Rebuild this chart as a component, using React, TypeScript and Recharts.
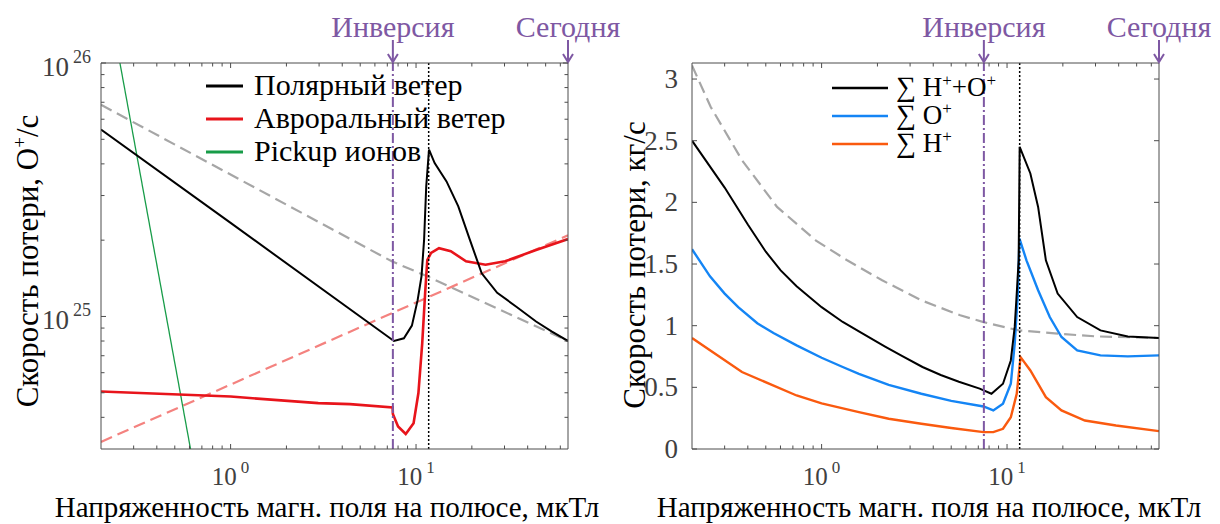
import React from 'react';
import { LineChart, Line, XAxis, YAxis, ReferenceLine } from 'recharts';

// magnetic field at the pole, µT (log axis)
const X_DOMAIN: [number, number] = [0.2, 66];
const X_TICKS = [0.3, 0.4, 0.5, 0.6, 0.7, 0.8, 0.9, 1, 2, 3, 4, 5, 6, 7, 8, 9, 10, 20, 30, 40, 50, 60];
const INVERSION_B = 7.5;
const TRANSITION_B = 11.7;
const TODAY_B = 66;

// left panel: O+ escape rate, ions/s (log axis)
const FLUX_DOMAIN: [number, number] = [3e24, 1e26];
const FLUX_TICKS = [4e24, 5e24, 6e24, 7e24, 8e24, 9e24, 1e25, 2e25, 3e25, 4e25, 5e25, 6e25, 7e25, 8e25, 9e25, 1e26];

const polarWind = [
  { x: 0.2, y: 5.46e25 }, { x: 1.0, y: 2.34e25 }, { x: 7.6, y: 8.0e24 }, { x: 8.6, y: 8.2e24 },
  { x: 9.5, y: 9.2e24 }, { x: 10.2, y: 1.16e25 }, { x: 10.7, y: 1.44e25 }, { x: 11.05, y: 2.0e25 },
  { x: 11.35, y: 3.26e25 }, { x: 11.75, y: 4.55e25 }, { x: 12.6, y: 4.03e25 }, { x: 14.6, y: 3.41e25 },
  { x: 16.9, y: 2.72e25 }, { x: 19.5, y: 2.01e25 }, { x: 22.6, y: 1.48e25 }, { x: 27.4, y: 1.24e25 },
  { x: 34.9, y: 1.09e25 }, { x: 44.4, y: 9.55e24 }, { x: 53.8, y: 8.73e24 }, { x: 66, y: 8.0e24 },
];
const auroralWind = [
  { x: 0.2, y: 5.06e24 }, { x: 1.0, y: 4.83e24 }, { x: 2.97, y: 4.55e24 }, { x: 4.4, y: 4.51e24 },
  { x: 7.48, y: 4.38e24 }, { x: 7.5, y: 4.12e24 }, { x: 8.0, y: 3.68e24 }, { x: 8.8, y: 3.44e24 },
  { x: 9.7, y: 3.79e24 }, { x: 10.3, y: 4.99e24 }, { x: 10.8, y: 7.85e24 }, { x: 11.2, y: 1.24e25 },
  { x: 11.5, y: 1.67e25 }, { x: 12.05, y: 1.78e25 }, { x: 13.3, y: 1.86e25 }, { x: 15.4, y: 1.81e25 },
  { x: 18.6, y: 1.65e25 }, { x: 23.7, y: 1.6e25 }, { x: 30.2, y: 1.65e25 }, { x: 44.4, y: 1.83e25 },
  { x: 66, y: 2.02e25 },
];
const auroralTrend = [{ x: 0.2, y: 3.2e24 }, { x: 66, y: 2.09e25 }];
const fluxLimit = [{ x: 0.2, y: 6.84e25 }, { x: 7.4, y: 1.65e25 }, { x: 11.5, y: 1.44e25 }, { x: 66, y: 8.0e24 }];
const pickupIons = [{ x: 0.253, y: 1e26 }, { x: 0.608, y: 3e24 }];

// right panel: mass loss, kg/s
const MASS_DOMAIN: [number, number] = [0, 3.13];
const MASS_TICKS = [0, 0.5, 1, 1.5, 2, 2.5, 3];

const totalLoss = [
  { x: 0.2, y: 2.5 }, { x: 0.3, y: 2.12 }, { x: 0.4, y: 1.82 }, { x: 0.5, y: 1.6 }, { x: 0.6, y: 1.45 },
  { x: 0.733, y: 1.32 }, { x: 1.0, y: 1.15 }, { x: 1.3, y: 1.03 }, { x: 1.667, y: 0.935 }, { x: 2.2, y: 0.83 },
  { x: 2.71, y: 0.755 }, { x: 3.5, y: 0.665 }, { x: 4.39, y: 0.6 }, { x: 5.5, y: 0.545 }, { x: 7.12, y: 0.49 },
  { x: 8.24, y: 0.448 }, { x: 9.51, y: 0.529 }, { x: 10.48, y: 0.718 }, { x: 11.0, y: 0.99 }, { x: 11.28, y: 1.26 },
  { x: 11.55, y: 1.53 }, { x: 11.7, y: 2.45 }, { x: 13.36, y: 2.234 }, { x: 14.71, y: 1.963 }, { x: 16.2, y: 1.53 },
  { x: 18.75, y: 1.26 }, { x: 23.9, y: 1.07 }, { x: 31.9, y: 0.962 }, { x: 44.8, y: 0.913 }, { x: 66, y: 0.9 },
];
const oxygenLoss = [
  { x: 0.2, y: 1.62 }, { x: 0.25, y: 1.4 }, { x: 0.3, y: 1.26 }, { x: 0.355, y: 1.15 }, { x: 0.45, y: 1.02 },
  { x: 0.55, y: 0.94 }, { x: 0.733, y: 0.84 }, { x: 1.0, y: 0.74 }, { x: 1.3, y: 0.665 }, { x: 1.589, y: 0.61 },
  { x: 2.3, y: 0.52 }, { x: 3.45, y: 0.448 }, { x: 5.0, y: 0.39 }, { x: 7.47, y: 0.345 }, { x: 8.43, y: 0.313 },
  { x: 9.51, y: 0.367 }, { x: 10.48, y: 0.529 }, { x: 11.0, y: 0.854 }, { x: 11.44, y: 1.26 }, { x: 11.67, y: 1.706 },
  { x: 12.73, y: 1.53 }, { x: 14.71, y: 1.287 }, { x: 17.0, y: 1.07 }, { x: 19.66, y: 0.908 }, { x: 23.9, y: 0.8 },
  { x: 31.9, y: 0.759 }, { x: 44.8, y: 0.751 }, { x: 66, y: 0.759 },
];
const hydrogenLoss = [
  { x: 0.2, y: 0.9 }, { x: 0.372, y: 0.624 }, { x: 0.733, y: 0.434 }, { x: 1.0, y: 0.37 }, { x: 1.589, y: 0.299 },
  { x: 2.3, y: 0.245 }, { x: 3.45, y: 0.205 }, { x: 5.0, y: 0.17 }, { x: 7.47, y: 0.137 }, { x: 8.43, y: 0.137 },
  { x: 9.51, y: 0.164 }, { x: 10.48, y: 0.258 }, { x: 11.28, y: 0.448 }, { x: 11.83, y: 0.745 }, { x: 13.36, y: 0.637 },
  { x: 16.2, y: 0.42 }, { x: 19.66, y: 0.313 }, { x: 26.3, y: 0.231 }, { x: 38.7, y: 0.191 }, { x: 66, y: 0.145 },
];
const massLimit = [
  { x: 0.2, y: 3.11 }, { x: 0.252, y: 2.775 }, { x: 0.372, y: 2.342 }, { x: 0.575, y: 1.963 },
  { x: 0.933, y: 1.69 }, { x: 1.373, y: 1.53 }, { x: 2.12, y: 1.368 }, { x: 3.45, y: 1.206 },
  { x: 5.59, y: 1.084 }, { x: 7.47, y: 1.029 }, { x: 11.55, y: 0.962 }, { x: 18.75, y: 0.935 },
  { x: 30.4, y: 0.913 }, { x: 66, y: 0.9 },
];

const FONT = '"Liberation Serif", monospace';
const SERIF = { fontFamily: FONT };
const AXIS = '#4d4d4d';
const TEXT = '#404040';
const PURPLE = '#7e58a3';
const H = 524;
const TOP = 63;
const BOTTOM = 75;

const isDecade = (v: number) => Math.abs(Math.log10(v) - Math.round(Math.log10(v))) < 1e-9;

const BottomLogTick = ({ x, y, payload }: any) => {
  const v = payload.value;
  const major = isDecade(v);
  return (
    <g>
      <line x1={x} x2={x} y1={y} y2={y - (major ? 5 : 3.5)} stroke={AXIS} />
      {major && (
        <text x={x} y={y + 36} textAnchor="middle" style={SERIF} fontSize={25} fill={TEXT}>
          10<tspan dx={4} dy={-12} fontSize={17}>{Math.round(Math.log10(v))}</tspan>
        </text>
      )}
    </g>
  );
};

const TopLogTick = ({ x, y, payload }: any) => {
  const v = payload.value;
  if (v === INVERSION_B || v === TODAY_B) {
    return (
      <g>
        <text x={x} y={y - 26} textAnchor="middle" style={SERIF} fontSize={30} fill={PURPLE}>
          {v === INVERSION_B ? 'Инверсия' : 'Сегодня'}
        </text>
        <line x1={x} x2={x} y1={y - 23} y2={y - 1} stroke={PURPLE} strokeWidth={2} />
        <polyline points={`${x - 5},${y - 9} ${x},${y - 1} ${x + 5},${y - 9}`} fill="none" stroke={PURPLE} strokeWidth={2} />
      </g>
    );
  }
  const major = isDecade(v);
  return <line x1={x} x2={x} y1={y} y2={y + (major ? 5 : 3.5)} stroke={AXIS} />;
};

const LeftLogTick = ({ x, y, payload }: any) => {
  const v = payload.value;
  const major = isDecade(v);
  return (
    <g>
      <line x1={x} x2={x + (major ? 5 : 3.5)} y1={y} y2={y} stroke={AXIS} />
      {major && (
        <text x={x - 10} y={y + 13} textAnchor="end" style={SERIF} fontSize={27} fill={TEXT}>
          10<tspan dx={4} dy={-13} fontSize={18}>{Math.round(Math.log10(v))}</tspan>
        </text>
      )}
    </g>
  );
};

const RightLogTick = ({ x, y, payload }: any) => {
  const major = isDecade(payload.value);
  return <line x1={x} x2={x - (major ? 5 : 3.5)} y1={y} y2={y} stroke={AXIS} />;
};

const LeftLinTick = ({ x, y, payload }: any) => (
  <g>
    <line x1={x} x2={x + 5} y1={y} y2={y} stroke={AXIS} />
    <text x={x - 14} y={y + 9} textAnchor="end" style={SERIF} fontSize={27} fill={TEXT}>
      {payload.value}
    </text>
  </g>
);

const RightLinTick = ({ x, y }: any) => <line x1={x} x2={x - 5} y1={y} y2={y} stroke={AXIS} />;

const LeftPanel = () => (
  <LineChart width={640} height={H} margin={{ top: 0, right: 0, bottom: 0, left: 0 }}>
    <XAxis xAxisId="b" dataKey="x" type="number" scale="log" domain={X_DOMAIN} allowDataOverflow ticks={X_TICKS}
      interval={0} tickSize={0} tickMargin={0} tickLine={false} stroke={AXIS} height={BOTTOM} tick={<BottomLogTick />} />
    <XAxis xAxisId="t" orientation="top" dataKey="x" type="number" scale="log" domain={X_DOMAIN} allowDataOverflow
      ticks={[...X_TICKS, INVERSION_B, TODAY_B]} interval={0} tickSize={0} tickMargin={0} tickLine={false}
      stroke={AXIS} height={TOP} tick={<TopLogTick />} />
    <YAxis yAxisId="l" type="number" scale="log" domain={FLUX_DOMAIN} allowDataOverflow ticks={FLUX_TICKS}
      interval={0} tickSize={0} tickMargin={0} tickLine={false} stroke={AXIS} width={101} tick={<LeftLogTick />} />
    <YAxis yAxisId="r" orientation="right" type="number" scale="log" domain={FLUX_DOMAIN} allowDataOverflow
      ticks={FLUX_TICKS} interval={0} tickSize={0} tickMargin={0} tickLine={false} stroke={AXIS} width={72}
      tick={<RightLogTick />} />
    <Line xAxisId="b" yAxisId="l" data={fluxLimit} dataKey="y" type="linear" stroke="#a6a6a6" strokeWidth={2.2}
      strokeDasharray="12 6" dot={false} isAnimationActive={false} />
    <Line xAxisId="b" yAxisId="l" data={auroralTrend} dataKey="y" type="linear" stroke="#f4827f" strokeWidth={2.2}
      strokeDasharray="12 6" dot={false} isAnimationActive={false} />
    <Line xAxisId="b" yAxisId="l" data={pickupIons} dataKey="y" type="linear" stroke="#179c48" strokeWidth={1.3}
      dot={false} isAnimationActive={false} />
    <Line xAxisId="b" yAxisId="l" data={auroralWind} dataKey="y" type="linear" stroke="#e8141b" strokeWidth={2.6}
      dot={false} isAnimationActive={false} />
    <Line xAxisId="b" yAxisId="l" data={polarWind} dataKey="y" type="linear" stroke="#000000" strokeWidth={2}
      dot={false} isAnimationActive={false} />
    <ReferenceLine xAxisId="b" yAxisId="l" x={INVERSION_B} stroke={PURPLE} strokeWidth={2} strokeDasharray="10 3 2 3" />
    <ReferenceLine xAxisId="b" yAxisId="l" x={TRANSITION_B} stroke="#000" strokeWidth={1.5} strokeDasharray="2 2" />
  </LineChart>
);

const RightPanel = () => (
  <LineChart width={610} height={H} margin={{ top: 0, right: 0, bottom: 0, left: 0 }}>
    <XAxis xAxisId="b" dataKey="x" type="number" scale="log" domain={X_DOMAIN} allowDataOverflow ticks={X_TICKS}
      interval={0} tickSize={0} tickMargin={0} tickLine={false} stroke={AXIS} height={BOTTOM} tick={<BottomLogTick />} />
    <XAxis xAxisId="t" orientation="top" dataKey="x" type="number" scale="log" domain={X_DOMAIN} allowDataOverflow
      ticks={[...X_TICKS, INVERSION_B, TODAY_B]} interval={0} tickSize={0} tickMargin={0} tickLine={false}
      stroke={AXIS} height={TOP} tick={<TopLogTick />} />
    <YAxis yAxisId="l" type="number" domain={MASS_DOMAIN} allowDataOverflow ticks={MASS_TICKS}
      interval={0} tickSize={0} tickMargin={0} tickLine={false} stroke={AXIS} width={82} tick={<LeftLinTick />} />
    <YAxis yAxisId="r" orientation="right" type="number" domain={MASS_DOMAIN} allowDataOverflow
      ticks={MASS_TICKS} interval={0} tickSize={0} tickMargin={0} tickLine={false} stroke={AXIS} width={61}
      tick={<RightLinTick />} />
    <Line xAxisId="b" yAxisId="l" data={massLimit} dataKey="y" type="linear" stroke="#a6a6a6" strokeWidth={2.2}
      strokeDasharray="12 6" dot={false} isAnimationActive={false} />
    <Line xAxisId="b" yAxisId="l" data={hydrogenLoss} dataKey="y" type="linear" stroke="#fa5a0f" strokeWidth={2.4}
      dot={false} isAnimationActive={false} />
    <Line xAxisId="b" yAxisId="l" data={oxygenLoss} dataKey="y" type="linear" stroke="#1485f5" strokeWidth={2.4}
      dot={false} isAnimationActive={false} />
    <Line xAxisId="b" yAxisId="l" data={totalLoss} dataKey="y" type="linear" stroke="#000000" strokeWidth={2}
      dot={false} isAnimationActive={false} />
    <ReferenceLine xAxisId="b" yAxisId="l" x={INVERSION_B} stroke={PURPLE} strokeWidth={2} strokeDasharray="10 3 2 3" />
    <ReferenceLine xAxisId="b" yAxisId="l" x={TRANSITION_B} stroke="#000" strokeWidth={1.5} strokeDasharray="2 2" />
  </LineChart>
);

const LEFT_LEGEND = [
  { name: 'Полярный ветер', color: '#000000' },
  { name: 'Авроральный ветер', color: '#e8141b' },
  { name: 'Pickup ионов', color: '#179c48' },
];

const App = () => (
  <div style={{ position: 'absolute', left: 0, top: 0, width: 1220, height: 524, background: '#fff', fontFamily: FONT }}>
    <div style={{ position: 'absolute', left: 0, top: 0 }}><LeftPanel /></div>
    <div style={{ position: 'absolute', left: 610, top: 0 }}><RightPanel /></div>
    <svg width={1220} height={524} style={{ position: 'absolute', left: 0, top: 0, pointerEvents: 'none' }}>
      {LEFT_LEGEND.map((d, i) => (
        <g key={d.name}>
          <line x1={206} x2={243} y1={86 + i * 33} y2={86 + i * 33} stroke={d.color} strokeWidth={3} />
          <text x={254} y={95 + i * 33} style={SERIF} fontSize={30} fill="#000">{d.name}</text>
        </g>
      ))}
      <g style={SERIF} fontSize={27} fill="#000">
        <line x1={832} x2={888} y1={88} y2={88} stroke="#000" strokeWidth={2.5} />
        <text x={896} y={96}><tspan fontSize={28}>∑</tspan> H<tspan dy={-10} fontSize={17}>+</tspan><tspan dy={10}>+O</tspan><tspan dy={-10} fontSize={17}>+</tspan></text>
        <line x1={832} x2={888} y1={116} y2={116} stroke="#1485f5" strokeWidth={2.5} />
        <text x={896} y={124}><tspan fontSize={28}>∑</tspan> O<tspan dy={-10} fontSize={17}>+</tspan></text>
        <line x1={832} x2={888} y1={144} y2={144} stroke="#fa5a0f" strokeWidth={2.5} />
        <text x={896} y={152}><tspan fontSize={28}>∑</tspan> H<tspan dy={-10} fontSize={17}>+</tspan></text>
      </g>
      <text x={327} y={517} textAnchor="middle" style={SERIF} fontSize={29} fill="#000">
        Напряженность магн. поля на полюсе, мкТл
      </text>
      <text x={929} y={517} textAnchor="middle" style={SERIF} fontSize={29} fill="#000">
        Напряженность магн. поля на полюсе, мкТл
      </text>
      <text x={38} y={261} transform="rotate(-90 38 261)" textAnchor="middle" style={SERIF} fontSize={31} fill="#000">
        Скорость потери, O<tspan dy={-12} fontSize={19}>+</tspan><tspan dy={12}>/с</tspan>
      </text>
      <text x={645} y={265} transform="rotate(-90 645 265)" textAnchor="middle" style={SERIF} fontSize={31} fill="#000">
        Скорость потери, кг/с
      </text>
    </svg>
  </div>
);

export default App;
